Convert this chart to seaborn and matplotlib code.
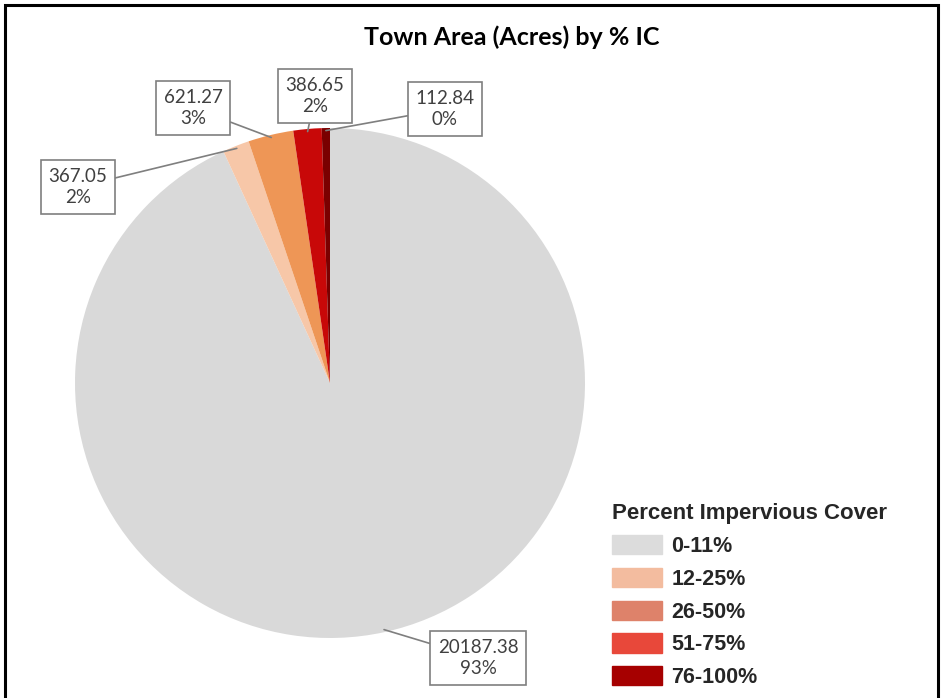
import numpy as np
import matplotlib
matplotlib.use("Agg")
import matplotlib.pyplot as plt
import matplotlib.patches as mpatches
import seaborn as sns

# data
categories = ["0-11%", "12-25%", "26-50%", "51-75%", "76-100%"]
acres = [20187.38, 367.05, 621.27, 386.65, 112.84]
pct_labels = ["93%", "2%", "3%", "2%", "0%"]

pie_colors = ["#d9d9d9", "#f7c7a8", "#ee9656", "#c80808", "#7a0000"]
legend_colors = ["#dcdcdc", "#f3bc9f", "#de826a", "#e8483a", "#a60000"]

sns.set_theme(style="white")
plt.rcParams['font.family'] = ['Lato', 'DejaVu Sans']

W, H = 941, 698
fig = plt.figure(figsize=(W / 100, H / 100), dpi=100)

# pie centre / radius in pixels
cx, cy, r = 330, 383, 255
ax = fig.add_axes([(cx - r) / W, (H - cy - r) / H, 2 * r / W, 2 * r / H])
wedges, _ = ax.pie(acres, colors=pie_colors, startangle=90, counterclock=False,
                   radius=1, wedgeprops=dict(linewidth=0))
ax.set_xlim(-1, 1)
ax.set_ylim(-1, 1)
ax.set_aspect("equal")
ax.axis("off")


def px(x, y):
    return (x - cx) / r, (cy - y) / r


# label box centres (pixels)
label_pos = [(478, 658), (78, 187), (193, 108), (315, 96), (445, 109)]
for w, val, pc, pos in zip(wedges, acres, pct_labels, label_pos):
    ang = np.deg2rad((w.theta1 + w.theta2) / 2)
    xy = (0.99 * np.cos(ang), 0.99 * np.sin(ang))
    ax.annotate(f"{val:.2f}\n{pc}", xy=xy, xytext=px(*pos), ha="center", va="center",
                fontsize=13.5, color="#404040", linespacing=1.35, annotation_clip=False,
                bbox=dict(boxstyle="square,pad=0.4", fc="white", ec="#7f7f7f", lw=1.2),
                arrowprops=dict(arrowstyle="-", color="#7f7f7f", lw=1.2,
                                shrinkA=0, shrinkB=0))

fig.text(512 / W, 1 - 37 / H, "Town Area (Acres) by % IC", ha="center", va="center",
         fontsize=18, fontweight="bold", color="black")

handles = [mpatches.Patch(color=c, label=l) for c, l in zip(legend_colors, categories)]
leg = fig.legend(handles=handles, loc="upper left", bbox_to_anchor=(593 / W, 1 - 484 / H),
                 frameon=False, title="Percent Impervious Cover", alignment="left",
                 prop=dict(family="Liberation Sans", weight="bold", size=15.5),
                 title_fontproperties=dict(family="Liberation Sans", weight="bold", size=16),
                 handlelength=2.3, handleheight=1.0, labelspacing=0.5, handletextpad=0.45)

# outer frame
fig.add_artist(mpatches.Rectangle((5 / W, -0.02), 933 / W, 1 - 5 / H + 0.02,
                                  transform=fig.transFigure, fill=False,
                                  ec="black", lw=2.2))

fig.savefig("out.png", dpi=100)
